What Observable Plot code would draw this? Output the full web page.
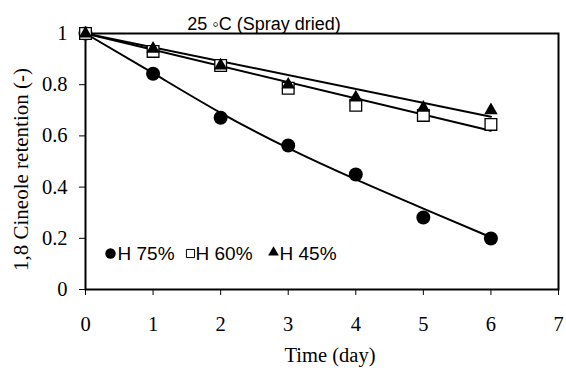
<!DOCTYPE html>
<html>
<head>
<meta charset="utf-8">
<script src="https://cdn.jsdelivr.net/npm/d3@7"></script>
<script src="https://cdn.jsdelivr.net/npm/@observablehq/plot@0.6"></script>
<style>
  html, body { margin: 0; padding: 0; background: #fff; }
  #chart { width: 566px; height: 378px; }
</style>
</head>
<body>
<div id="chart"></div>
<script>
// ---- data ----
const days = [0, 1, 2, 3, 4, 5, 6];
const h75 = [1.0, 0.843, 0.671, 0.5625, 0.449, 0.281, 0.199];
const h60 = [1.0, 0.93, 0.875, 0.786, 0.72, 0.68, 0.645];
const h45 = [1.0, 0.94, 0.875, 0.80, 0.75, 0.71, 0.70];
// fitted lines
const fit75 = [1.0, 0.845, 0.69, 0.552, 0.43, 0.316, 0.204];
const fitDays = [0, 6];
const fit60 = [1.0, 0.62];
const fit45 = [1.0, 0.675];
const xTicks = [0, 1, 2, 3, 4, 5, 6, 7];
const yTicks = [0, 0.2, 0.4, 0.6, 0.8, 1];
const xTickLabels = ["0", "1", "2", "3", "4", "5", "6", "7"];
const yTickLabels = ["0", "0.2", "0.4", "0.6", "0.8", "1"];
const titleText = "25 \u25E6C (Spray dried)";
const xLabel = "Time (day)";
const yLabel = "1,8 Cineole retention (-)";
const seriesNames = ["H 75%", "H 60%", "H 45%"];

const pts = (xs, ys) => xs.map((d, i) => ({x: d, y: ys[i]}));

const serif = "'Liberation Serif', 'Times New Roman', serif";
const sans = "'Liberation Sans', Arial, sans-serif";

const legendSym = {frameAnchor: "bottom-left", dy: -36};
const legendTxt = {frameAnchor: "bottom-left", textAnchor: "start", lineAnchor: "middle", dy: -36, fontSize: 19, fontFamily: sans, fill: "#000"};

const chart = Plot.plot({
  width: 566,
  height: 378,
  marginLeft: 85,
  marginRight: 8,
  marginTop: 33,
  marginBottom: 89,
  style: {background: "#fff", color: "#000"},
  x: {domain: [0, 7], ticks: xTicks, tickSize: 6, tickFormat: () => "", label: null},
  y: {domain: [0, 1], ticks: yTicks, tickSize: 6, tickFormat: () => "", label: null},
  marks: [
    Plot.frame({stroke: "#000", strokeWidth: 2}),
    // tick labels through the scales
    Plot.text(xTicks, {x: d => d, text: (d, i) => xTickLabels[i], frameAnchor: "bottom", dy: 35, lineAnchor: "middle", fontSize: 20.5, fontFamily: serif, fill: "#000"}),
    Plot.text(yTicks, {y: d => d, text: (d, i) => yTickLabels[i], frameAnchor: "left", dx: -18, textAnchor: "end", lineAnchor: "middle", fontSize: 20.5, fontFamily: serif, fill: "#000"}),
    Plot.line(pts(days, fit75), {x: "x", y: "y", curve: "natural", stroke: "#000", strokeWidth: 2}),
    Plot.line(pts(fitDays, fit60), {x: "x", y: "y", stroke: "#000", strokeWidth: 2}),
    Plot.line(pts(fitDays, fit45), {x: "x", y: "y", stroke: "#000", strokeWidth: 2}),
    Plot.dot(pts(days, h75), {x: "x", y: "y", symbol: "circle", r: 7, fill: "#000", stroke: "none"}),
    Plot.dot(pts(days, h60), {x: "x", y: "y", symbol: "square", r: 6.6, fill: "#fff", stroke: "#000", strokeWidth: 1.3}),
    Plot.dot(pts(days, h45), {x: "x", y: "y", symbol: "triangle", r: 5, fill: "#000", stroke: "none"}),
    // legend
    Plot.dot([0], {...legendSym, dx: 25, symbol: "circle", r: 5.2, fill: "#000", stroke: "none"}),
    Plot.text([seriesNames[0]], {...legendTxt, dx: 32}),
    Plot.dot([0], {...legendSym, dx: 105, symbol: "square", r: 4.6, fill: "#fff", stroke: "#000", strokeWidth: 1}),
    Plot.text([seriesNames[1]], {...legendTxt, dx: 110}),
    Plot.dot([0], {...legendSym, dx: 188, dy: -37, symbol: "triangle", r: 4, fill: "#000", stroke: "none"}),
    Plot.text([seriesNames[2]], {...legendTxt, dx: 194}),
    // titles
    Plot.text([titleText], {frameAnchor: "top", dx: -58, dy: -9, lineAnchor: "middle", fontSize: 18, fontFamily: sans, fill: "#000"}),
    Plot.text([xLabel], {frameAnchor: "bottom", dx: 8, dy: 66, lineAnchor: "middle", fontSize: 20.5, fontFamily: serif, fill: "#000"}),
    Plot.text([yLabel], {frameAnchor: "left", dx: -64, dy: 8, rotate: -90, textAnchor: "middle", lineAnchor: "middle", fontSize: 21, fontFamily: serif, fill: "#000"})
  ]
});
document.getElementById("chart").appendChild(chart);
</script>
</body>
</html>
